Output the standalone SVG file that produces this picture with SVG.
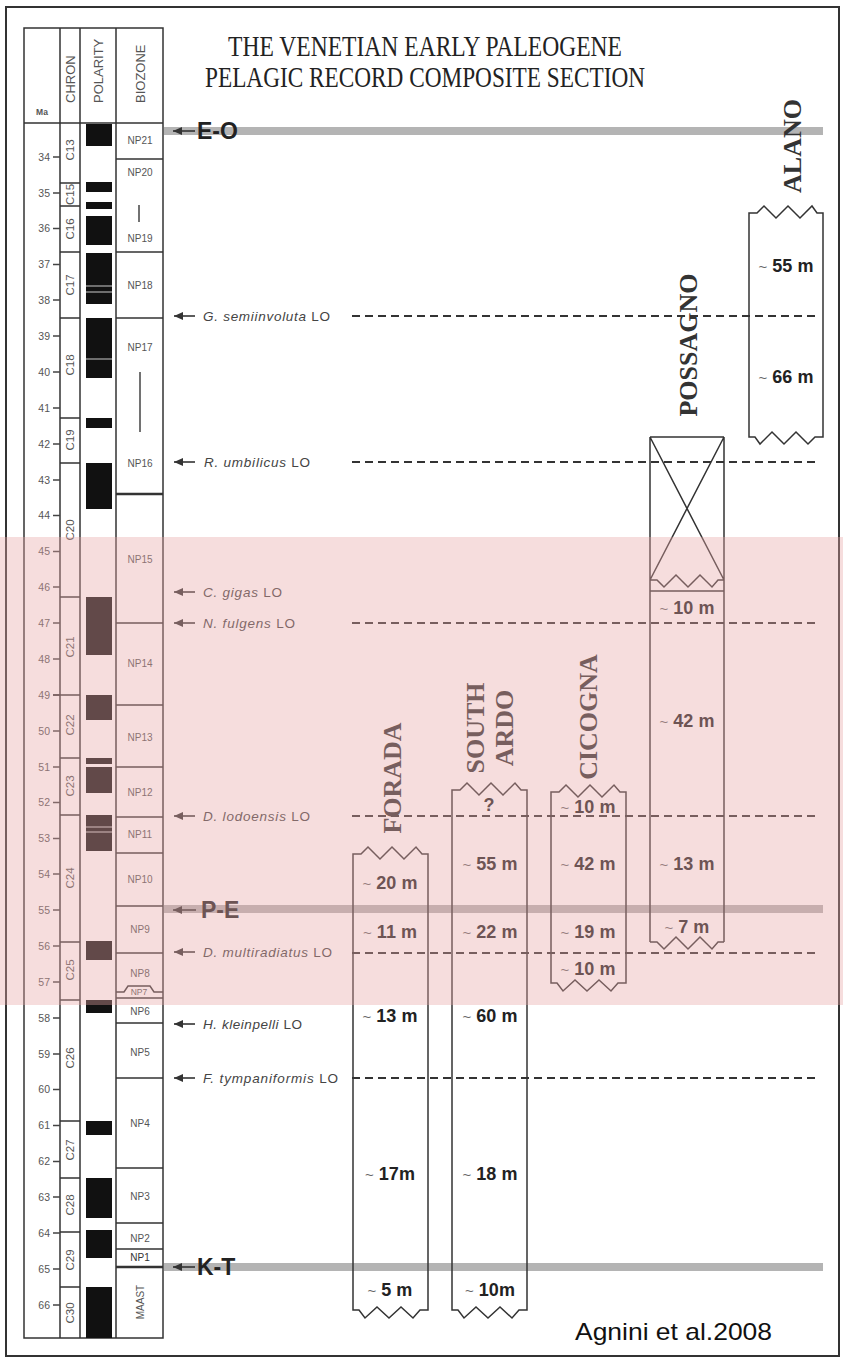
<svg xmlns="http://www.w3.org/2000/svg" width="843" height="1359" viewBox="0 0 843 1359">
<style>
.ln{stroke:#333;stroke-width:1.5;fill:none}
.tk{stroke:#444;stroke-width:1.3;fill:none}
.tb{font-family:"Liberation Sans",Arial,sans-serif;fill:#555}
.ma{font-size:10.5px;text-anchor:end}
.chr{font-size:11.5px;text-anchor:middle}
.bz{font-size:10px;text-anchor:middle}
.hd{font-size:13px;text-anchor:start}
.sec{font-family:"Liberation Serif","Times New Roman",serif;font-weight:bold;font-size:26px;fill:#333;text-anchor:middle}
.th{font-family:"Liberation Sans",Arial,sans-serif;font-weight:bold;font-size:18px;fill:#222;text-anchor:middle}
.tl{font-weight:normal;font-size:15px;fill:#666}
.sp{font-family:"Liberation Sans",Arial,sans-serif;font-size:13.5px;fill:#444}
.it{font-style:italic}
.dash{stroke:#333;stroke-width:2;stroke-dasharray:8 5;fill:none}
.bnd{stroke:#b4b4b4;stroke-width:8}
.evt{font-family:"Liberation Sans",Arial,sans-serif;font-weight:bold;font-size:23px;fill:#222}
.ar{stroke:#333;stroke-width:1.6;fill:none}
.pol{fill:#111}
.wl{stroke:#ccc;stroke-width:1.2}
</style>
<defs>
<marker id="ah" markerUnits="userSpaceOnUse" markerWidth="10" markerHeight="8" refX="9" refY="4" orient="auto">
<path d="M0,0 L9,4 L0,8 Z" fill="#333"/>
</marker>
</defs>
<rect x="0" y="0" width="843" height="1359" fill="#fff"/>
<rect x="6" y="7" width="833" height="1349" fill="none" stroke="#333" stroke-width="2"/>

<g id="title">
<text x="425" y="56" font-family="Liberation Serif,Times New Roman,serif" font-size="30" fill="#222" text-anchor="middle" textLength="394" lengthAdjust="spacingAndGlyphs">THE VENETIAN EARLY PALEOGENE</text>
<text x="425" y="87" font-family="Liberation Serif,Times New Roman,serif" font-size="30" fill="#222" text-anchor="middle" textLength="440" lengthAdjust="spacingAndGlyphs">PELAGIC RECORD COMPOSITE SECTION</text>
</g>

<g id="boundaries">
<line class="bnd" x1="164" y1="131" x2="823" y2="131"/>
<line class="bnd" x1="164" y1="909" x2="823" y2="909"/>
<line class="bnd" x1="164" y1="1267" x2="823" y2="1267"/>
</g>

<g id="connectors">
<line class="dash" x1="352" y1="316" x2="820" y2="316"/>
<line class="dash" x1="352" y1="462" x2="820" y2="462"/>
<line class="dash" x1="352" y1="623" x2="820" y2="623"/>
<line class="dash" x1="352" y1="816" x2="820" y2="816"/>
<line class="dash" x1="352" y1="953" x2="820" y2="953"/>
<line class="dash" x1="352" y1="1078" x2="820" y2="1078"/>
</g>

<g id="events">
<line class="ar" x1="195" y1="131" x2="173" y2="131" marker-end="url(#ah)" stroke-width="2"/>
<text class="evt" x="197" y="139">E-O</text>
<line class="ar" x1="196" y1="910" x2="173" y2="910" marker-end="url(#ah)" stroke-width="2"/>
<text class="evt" x="201" y="918">P-E</text>
<line class="ar" x1="195" y1="1267" x2="173" y2="1267" marker-end="url(#ah)" stroke-width="2"/>
<text class="evt" x="197" y="1275">K-T</text>
</g>

<g id="markers">
<line class="ar" x1="195" y1="316" x2="174" y2="316" marker-end="url(#ah)"/>
<text class="sp" x="203" y="320.5" textLength="127"><tspan class="it">G. semiinvoluta</tspan> LO</text>
<line class="ar" x1="195" y1="462" x2="174" y2="462" marker-end="url(#ah)"/>
<text class="sp" x="204" y="466.5" textLength="106"><tspan class="it">R. umbilicus</tspan> LO</text>
<line class="ar" x1="195" y1="592" x2="174" y2="592" marker-end="url(#ah)"/>
<text class="sp" x="203" y="596.5" textLength="79"><tspan class="it">C. gigas</tspan> LO</text>
<line class="ar" x1="195" y1="623" x2="174" y2="623" marker-end="url(#ah)"/>
<text class="sp" x="203" y="627.5" textLength="92"><tspan class="it">N. fulgens</tspan> LO</text>
<line class="ar" x1="195" y1="816" x2="174" y2="816" marker-end="url(#ah)"/>
<text class="sp" x="203" y="820.5" textLength="107"><tspan class="it">D. lodoensis</tspan> LO</text>
<line class="ar" x1="195" y1="952" x2="174" y2="952" marker-end="url(#ah)"/>
<text class="sp" x="203" y="956.5" textLength="129"><tspan class="it">D. multiradiatus</tspan> LO</text>
<line class="ar" x1="195" y1="1024" x2="174" y2="1024" marker-end="url(#ah)"/>
<text class="sp" x="203" y="1028.5" textLength="99"><tspan class="it">H. kleinpelli</tspan> LO</text>
<line class="ar" x1="195" y1="1078" x2="174" y2="1078" marker-end="url(#ah)"/>
<text class="sp" x="203" y="1082.5" textLength="135"><tspan class="it">F. tympaniformis</tspan> LO</text>
</g>

<g id="forada">
<path class="ln" d="M353,854 L361,854 L368,847 L380,859 L392,847 L404,859 L416,847 L422,854 L428,854 L428,1310 L420,1310 L413,1318 L401,1307 L389,1318 L377,1307 L365,1318 L359,1310 L353,1310 Z"/>
<text class="sec" transform="translate(401,778) rotate(-90)">FORADA</text>
<text class="th" x="390" y="889"><tspan class="tl">~</tspan> 20 m</text>
<text class="th" x="390" y="938"><tspan class="tl">~</tspan> 11 m</text>
<text class="th" x="390" y="1022"><tspan class="tl">~</tspan> 13 m</text>
<text class="th" x="390" y="1180"><tspan class="tl">~</tspan> 17m</text>
<text class="th" x="390" y="1296"><tspan class="tl">~</tspan> 5 m</text>
</g>

<g id="south-ardo">
<path class="ln" d="M452,790 L460,790 L467,783 L479,795 L491,783 L503,795 L515,783 L521,790 L527,790 L527,1310 L519,1310 L512,1318 L500,1307 L488,1318 L476,1307 L464,1318 L458,1310 L452,1310 Z"/>
<text class="sec" transform="translate(484,728) rotate(-90)">SOUTH</text>
<text class="sec" transform="translate(513,728) rotate(-90)">ARDO</text>
<text class="th" x="489" y="811" font-size="16" fill="#555">?</text>
<text class="th" x="490" y="870"><tspan class="tl">~</tspan> 55 m</text>
<text class="th" x="490" y="938"><tspan class="tl">~</tspan> 22 m</text>
<text class="th" x="490" y="1022"><tspan class="tl">~</tspan> 60 m</text>
<text class="th" x="490" y="1180"><tspan class="tl">~</tspan> 18 m</text>
<text class="th" x="490" y="1296"><tspan class="tl">~</tspan> 10m</text>
</g>

<g id="cicogna">
<path class="ln" d="M551,792 L559,792 L566,785 L578,797 L590,785 L602,797 L614,785 L620,792 L626,792 L626,983 L618,983 L611,991 L599,980 L587,991 L575,980 L563,991 L557,983 L551,983 Z"/>
<text class="sec" transform="translate(597,717) rotate(-90)">CICOGNA</text>
<text class="th" x="588" y="813"><tspan class="tl">~</tspan> 10 m</text>
<text class="th" x="588" y="870"><tspan class="tl">~</tspan> 42 m</text>
<text class="th" x="588" y="938"><tspan class="tl">~</tspan> 19 m</text>
<text class="th" x="588" y="975"><tspan class="tl">~</tspan> 10 m</text>
</g>

<g id="possagno">
<path class="ln" d="M650,437 L724,437 M650,437 L650,942 M724,437 L724,942 M650,437 L724,580 M724,437 L650,580 M650,580 L657,580 L664,587 L676,575 L688,587 L700,575 L712,587 L718,580 L724,580 M650,591 L724,591 M650,942 L657,942 L664,949 L676,937 L688,949 L700,937 L712,949 L718,942 L724,942"/>
<text class="sec" transform="translate(697,345) rotate(-90)">POSSAGNO</text>
<text class="th" x="687" y="614"><tspan class="tl">~</tspan> 10 m</text>
<text class="th" x="687" y="727"><tspan class="tl">~</tspan> 42 m</text>
<text class="th" x="687" y="870"><tspan class="tl">~</tspan> 13 m</text>
<text class="th" x="687" y="933"><tspan class="tl">~</tspan> 7 m</text>
</g>

<g id="alano">
<path class="ln" d="M749,213 L757,213 L764,206 L776,218 L788,206 L800,218 L812,206 L817,213 L823,213 L823,437 L815,437 L808,444 L796,432 L784,444 L772,432 L760,444 L755,437 L749,437 Z"/>
<text class="sec" transform="translate(801,146) rotate(-90)">ALANO</text>
<text class="th" x="786" y="272"><tspan class="tl">~</tspan> 55 m</text>
<text class="th" x="786" y="383"><tspan class="tl">~</tspan> 66 m</text>
</g>

<g id="table">
<rect x="24" y="28" width="139" height="1310" class="ln"/>
<path class="ln" d="M24,123 H163 M60,28 V1338 M80,28 V1338 M116,28 V1338"/>
<text class="tb" x="42" y="115" font-size="8.5" font-weight="bold" text-anchor="middle">Ma</text>
<text class="tb hd" transform="translate(75,103) rotate(-90)">CHRON</text>
<text class="tb hd" transform="translate(103,103) rotate(-90)">POLARITY</text>
<text class="tb hd" transform="translate(145,103) rotate(-90)">BIOZONE</text>
</g>

<g id="ma-scale">
<path class="tk" d="M53,157h7 M53,193h7 M53,228.5h7 M53,264.5h7 M53,300h7 M53,336h7 M53,372h7 M53,408h7 M53,444h7 M53,480h7 M53,515.5h7 M53,551.5h7 M53,587h7 M53,623h7 M53,659h7 M53,695h7 M53,731h7 M53,767h7 M53,802.5h7 M53,838.5h7 M53,874h7 M53,910h7 M53,946h7 M53,982h7 M53,1018h7 M53,1054h7 M53,1089.5h7 M53,1125.5h7 M53,1161.5h7 M53,1197h7 M53,1233h7 M53,1269h7 M53,1305h7"/>
<g class="tb ma">
<text x="50" y="160.5">34</text><text x="50" y="196.5">35</text><text x="50" y="232">36</text><text x="50" y="268">37</text><text x="50" y="303.5">38</text><text x="50" y="339.5">39</text><text x="50" y="375.5">40</text><text x="50" y="411.5">41</text><text x="50" y="447.5">42</text><text x="50" y="483.5">43</text><text x="50" y="519">44</text><text x="50" y="555">45</text><text x="50" y="590.5">46</text><text x="50" y="626.5">47</text><text x="50" y="662.5">48</text><text x="50" y="698.5">49</text><text x="50" y="734.5">50</text><text x="50" y="770.5">51</text><text x="50" y="806">52</text><text x="50" y="842">53</text><text x="50" y="877.5">54</text><text x="50" y="913.5">55</text><text x="50" y="949.5">56</text><text x="50" y="985.5">57</text><text x="50" y="1021.5">58</text><text x="50" y="1057.5">59</text><text x="50" y="1093">60</text><text x="50" y="1129">61</text><text x="50" y="1165">62</text><text x="50" y="1200.5">63</text><text x="50" y="1236.5">64</text><text x="50" y="1272.5">65</text><text x="50" y="1308.5">66</text>
</g>
</g>

<g id="chron">
<path class="ln" d="M60,183H80 M60,206H80 M60,252H80 M60,318H80 M60,418H80 M60,463H80 M60,597H80 M53,695H80 M60,758H80 M60,815H80 M60,942H80 M60,1000H80 M60,1121H80 M60,1178H80 M60,1232H80 M60,1287H80"/>
<g class="tb chr">
<text transform="translate(70,150) rotate(-90)" y="4">C13</text>
<text transform="translate(70,194.5) rotate(-90)" y="4">C15</text>
<text transform="translate(70,229) rotate(-90)" y="4">C16</text>
<text transform="translate(70,285) rotate(-90)" y="4">C17</text>
<text transform="translate(70,365) rotate(-90)" y="4">C18</text>
<text transform="translate(70,440) rotate(-90)" y="4">C19</text>
<text transform="translate(70,530) rotate(-90)" y="4">C20</text>
<text transform="translate(70,647) rotate(-90)" y="4">C21</text>
<text transform="translate(70,725) rotate(-90)" y="4">C22</text>
<text transform="translate(70,786) rotate(-90)" y="4">C23</text>
<text transform="translate(70,878) rotate(-90)" y="4">C24</text>
<text transform="translate(70,970) rotate(-90)" y="4">C25</text>
<text transform="translate(70,1058) rotate(-90)" y="4">C26</text>
<text transform="translate(70,1150) rotate(-90)" y="4">C27</text>
<text transform="translate(70,1205) rotate(-90)" y="4">C28</text>
<text transform="translate(70,1260) rotate(-90)" y="4">C29</text>
<text transform="translate(70,1313) rotate(-90)" y="4">C30</text>
</g>
</g>

<g id="polarity">
<rect class="pol" x="86" y="124" width="26" height="22"/>
<rect class="pol" x="86" y="182" width="26" height="10"/>
<rect class="pol" x="86" y="202" width="26" height="7"/>
<rect class="pol" x="86" y="216" width="26" height="29"/>
<rect class="pol" x="86" y="253" width="26" height="51"/>
<rect class="pol" x="86" y="318" width="26" height="60"/>
<rect class="pol" x="86" y="418" width="26" height="10"/>
<rect class="pol" x="86" y="463" width="26" height="46"/>
<rect class="pol" x="86" y="597" width="26" height="58"/>
<rect class="pol" x="86" y="695" width="26" height="25"/>
<rect class="pol" x="86" y="758" width="26" height="6"/>
<rect class="pol" x="86" y="767" width="26" height="26"/>
<rect class="pol" x="86" y="815" width="26" height="36"/>
<rect class="pol" x="86" y="941" width="26" height="19"/>
<rect class="pol" x="86" y="1000" width="26" height="13"/>
<rect class="pol" x="86" y="1121" width="26" height="14"/>
<rect class="pol" x="86" y="1178" width="26" height="40"/>
<rect class="pol" x="86" y="1230" width="26" height="28"/>
<rect class="pol" x="86" y="1287" width="26" height="51"/>
<path class="wl" d="M86,286H112 M86,292H112 M86,359H112 M86,827H112 M86,832H112"/>
</g>

<g id="biozone">
<path class="ln" d="M116,159H163 M116,252H163 M116,318H163 M116,623H163 M116,705H163 M116,767H163 M116,817H163 M116,853H163 M116,906H163 M116,953H163 M116,992H124 L128,986 H150 L154,992 H163 M116,998H163 M116,1023H163 M116,1078H163 M116,1168H163 M116,1223H163 M116,1249H163"/>
<path d="M116,494H163 M116,1267H163" stroke="#333" stroke-width="2.5"/>
<path d="M139,205V222 M140,372V432" stroke="#444" stroke-width="1.5"/>
<g class="tb bz">
<text x="140" y="143.5">NP21</text><text x="140" y="175.5">NP20</text><text x="140" y="241.5">NP19</text><text x="140" y="288.5">NP18</text><text x="140" y="350.5">NP17</text><text x="140" y="466.5">NP16</text><text x="140" y="562.5">NP15</text><text x="140" y="666.5">NP14</text><text x="140" y="740.5">NP13</text><text x="140" y="795.5">NP12</text><text x="140" y="838">NP11</text><text x="140" y="882.5">NP10</text><text x="140" y="932.5">NP9</text><text x="140" y="976.5">NP8</text><text x="139" y="995" font-size="8.5">NP7</text><text x="140" y="1015">NP6</text><text x="140" y="1055.5">NP5</text><text x="140" y="1126.5">NP4</text><text x="140" y="1199.5">NP3</text><text x="140" y="1241.5">NP2</text><text x="140" y="1261" fill="#333">NP1</text>
<text transform="translate(140,1302) rotate(-90)" y="4">MAAST</text>
</g>
</g>

<text id="credit" x="575" y="1340" font-family="Liberation Sans,Arial,sans-serif" font-size="24" fill="#111" textLength="197" lengthAdjust="spacingAndGlyphs">Agnini et al.2008</text>

<rect id="highlight" x="0" y="537" width="843" height="468" fill="rgb(232,165,165)" opacity="0.38"/>
</svg>
